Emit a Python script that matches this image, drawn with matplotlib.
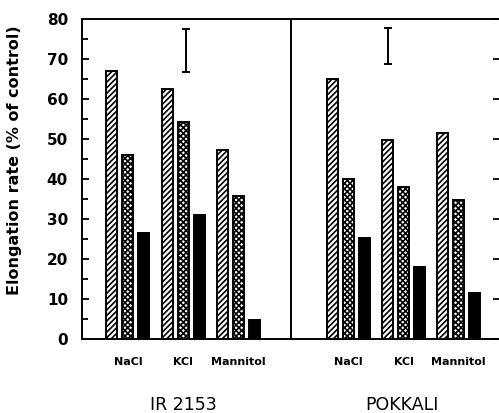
import matplotlib
matplotlib.use('Agg')
import numpy as np
import matplotlib.pyplot as plt

# values (% of control)
CATEGORIES = ['NaCl', 'KCl', 'Mannitol']
GROUPS = ['IR 2153', 'POKKALI']
IR_HATCH = [67, 62.5, 47.3]
IR_CROSS = [46, 54.3, 35.8]
IR_BLACK = [26.5, 31, 4.8]
PK_HATCH = [65, 49.8, 51.5]
PK_CROSS = [40, 38, 34.7]
PK_BLACK = [25.2, 18, 11.5]
# LSD bars: (x position, center, half length)
ERR_X = [1.055, 4.71]
ERR_Y = [72.1, 73.2]
ERR_H = [5.3, 4.5]

plt.rcParams['font.family'] = 'DejaVu Sans'
plt.rcParams['hatch.linewidth'] = 1.2

fig = plt.figure(figsize=(4.99, 4.13), dpi=100)
ax = fig.add_axes([0.164, 0.179, 0.838, 0.775])

off = 0.29
w = 0.2
groups = [(np.arange(3), IR_HATCH, IR_CROSS, IR_BLACK),
          (np.arange(3) + 4, PK_HATCH, PK_CROSS, PK_BLACK)]
for pos, h, c, b in groups:
    ax.bar(pos - off, h, w, color='white', edgecolor='black', hatch='//////', linewidth=1.4)
    ax.bar(pos, c, w, color='white', edgecolor='black', hatch='xxxxxx', linewidth=1.4)
    ax.bar(pos + off, b, w, color='black', edgecolor='black', linewidth=1.4)

ax.errorbar(ERR_X, ERR_Y, yerr=ERR_H, fmt='none', ecolor='black', elinewidth=1.4, capsize=3, capthick=1.4)

ax.axvline(2.964, color='black', linewidth=1.4)

ax.set_xlim(-0.836, 6.75)
ax.set_ylim(0, 80)
ax.set_yticks(range(0, 81, 10))
ax.set_yticks(range(5, 80, 10), minor=True)
ax.tick_params(axis='y', which='both', direction='in', right=True, labelsize=11, width=1.3, pad=10)
ax.tick_params(axis='y', which='major', length=5)
ax.tick_params(axis='y', which='minor', length=4, right=False)
for lab in ax.get_yticklabels():
    lab.set_fontweight('bold')

ticks = list(np.arange(3)) + list(np.arange(3) + 4)
ax.set_xticks(ticks)
ax.set_xticklabels(CATEGORIES * 2, fontsize=8, fontweight='bold')
ax.tick_params(axis='x', length=0, pad=13)

for s in ax.spines.values():
    s.set_linewidth(1.4)

ax.set_ylabel('Elongation rate (% of control)', fontsize=11.5, fontweight='bold')
ax.yaxis.set_label_coords(-0.144, 0.56)

ax.text(1.0, -0.205, GROUPS[0], transform=ax.get_xaxis_transform(), ha='center', va='center', fontsize=12.5)
ax.text(4.97, -0.205, GROUPS[1], transform=ax.get_xaxis_transform(), ha='center', va='center', fontsize=12.5)

fig.savefig('out.png', dpi=100)
